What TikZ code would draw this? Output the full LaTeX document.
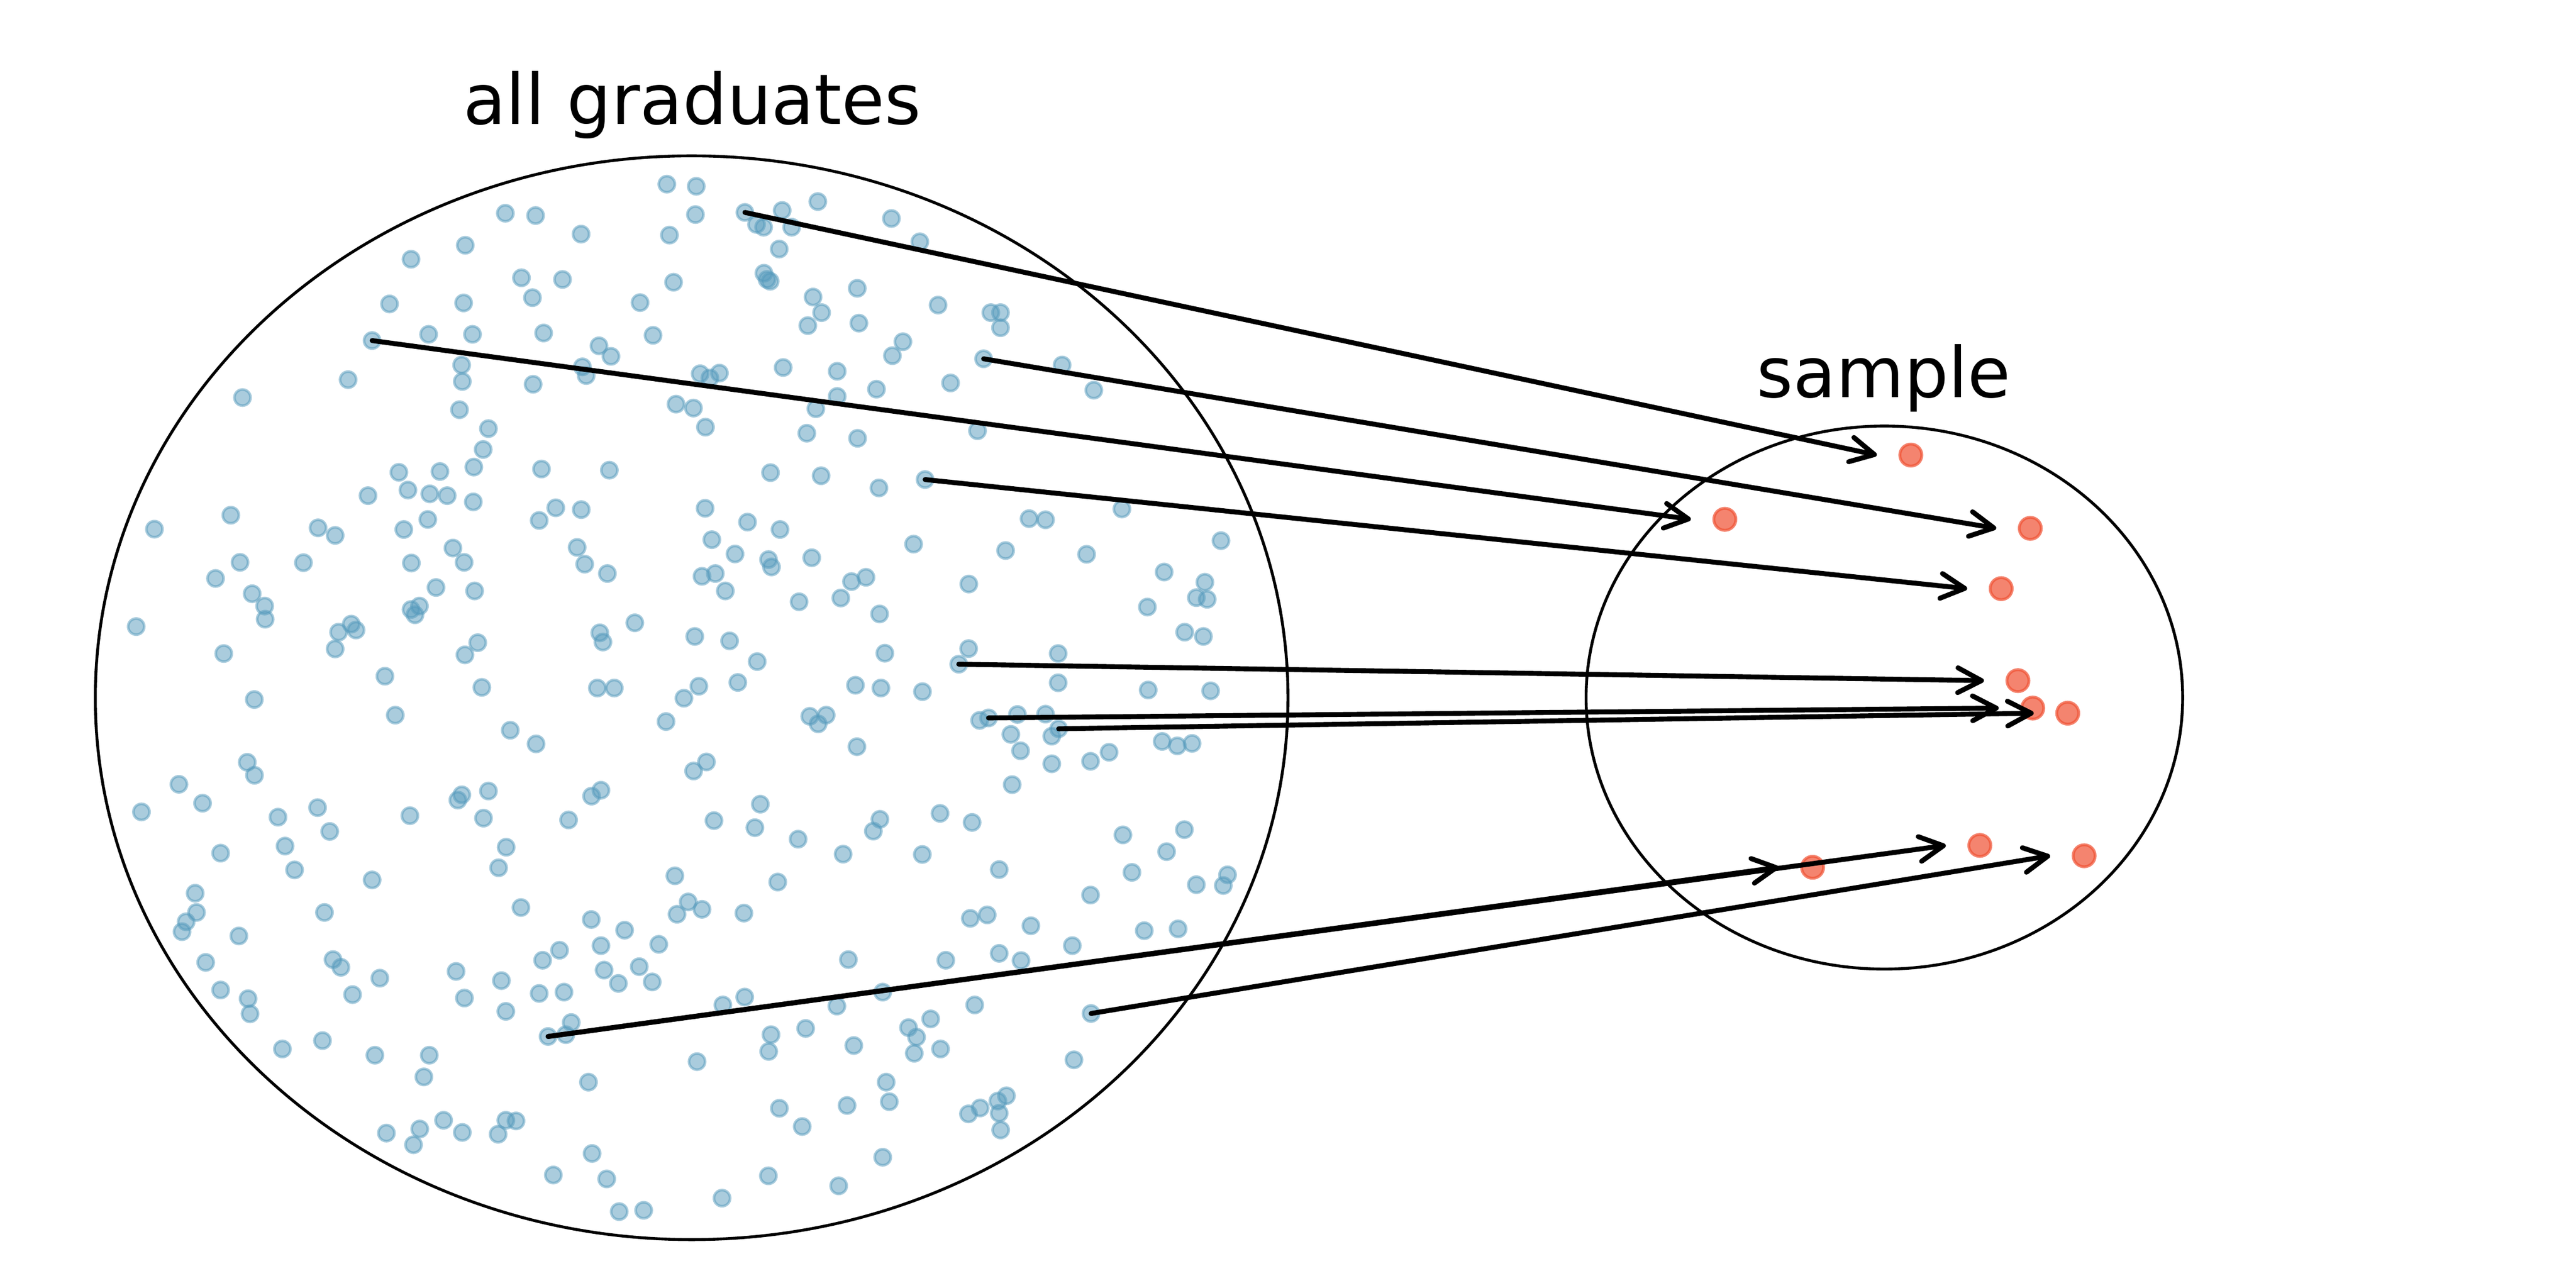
\documentclass[tikz,border=0pt]{standalone}
\usepackage{fontspec}
\setmainfont{DejaVu Sans}
\usetikzlibrary{arrows.meta,calc,shapes.geometric}
\definecolor{oiblue}{HTML}{569BBD}
\definecolor{oired}{HTML}{F05133}
\tikzset{
  bluedot/.style={fill=oiblue, draw=oiblue, fill opacity=0.5, draw opacity=0.5, line width=0.93pt},
  startdot/.style={circle, inner sep=0pt, minimum size=0.196cm, fill=oiblue, draw=oiblue, fill opacity=0.5, draw opacity=0.5, line width=0.93pt},
  reddot/.style={circle, inner sep=0pt, minimum size=0.268cm, fill=oired, draw=oired, fill opacity=0.7, draw opacity=0.7, line width=1pt},
  popring/.style={ellipse, draw=black, line width=1pt, inner sep=0pt},
  samparrow/.style={draw=black, line width=1.7pt, line cap=round, -{Straight Barb[length=8.2pt, width=8.6pt, round]}},
  titletext/.style={font=\fontsize{24.2}{29}\selectfont, inner sep=0pt, anchor=base}
}
\begin{document}
\begin{tikzpicture}[x=0.02cm, y=-0.02cm]
\useasboundingbox (0,0) rectangle (1568,784);
\fill[white] (0,0) rectangle (1568,784);

% population and sample outlines
\node[popring, minimum width=14.522cm, minimum height=13.196cm] (pop) at (421,424.7) {};
\node[popring, minimum width=7.264cm, minimum height=6.612cm] (samp) at (1147,424.6) {};

% labels
\node[titletext] (poplabel) at (421.3,75.7) {all graduates};
\node[titletext] (samplabel) at (1146.7,241.8) {sample};

% population dots
\foreach \x/\y in {
250.2/157.8, 283.2/149.3, 237.1/185.0, 282.2/184.4, 260.9/203.5, 287.6/203.5, 281.0/222.2, 281.4/232.2, 211.9/231.1, 147.6/242.0,
279.7/249.4, 297.3/260.9, 294.1/273.6, 242.8/287.5, 267.8/287.0, 288.4/284.3, 224.0/301.7, 248.3/298.3, 261.6/300.6, 272.2/301.7,
288.1/305.5, 140.5/313.6, 94.0/322.1, 193.6/321.3, 204.0/325.9, 245.8/322.3, 260.4/316.2, 275.7/333.6, 282.5/342.3, 250.4/342.7,
184.7/342.5, 146.1/342.3, 131.2/352.1, 153.5/361.4, 161.1/368.9, 161.4/376.9, 265.4/357.6, 288.9/359.7, 250.2/371.0, 252.6/374.2,
255.3/368.9, 82.9/381.4, 213.8/379.9, 216.7/383.5, 206.1/384.8, 204.0/395.0, 136.2/397.8, 290.8/391.2, 283.0/398.6, 234.3/411.6,
293.3/418.4, 154.8/425.8,
307.6/129.8, 326.0/131.2, 353.7/142.5, 405.9/112.1, 423.8/113.4, 423.3/130.6, 407.5/143.1, 460.5/136.6, 464.8/138.3, 476.1/128.1,
481.9/138.3, 497.8/122.7, 542.6/133.0, 474.3/151.6, 317.4/169.1, 342.4/170.1, 324.1/181.2, 410.0/171.8, 389.6/184.2, 465.0/166.3,
466.9/170.1, 468.8/171.2, 494.9/180.8, 500.1/190.3, 521.8/175.5, 491.7/198.2, 522.8/196.7, 549.6/208.0, 543.2/216.5, 330.9/202.7,
364.6/210.5, 371.9/216.9, 397.5/204.1, 354.5/223.3, 356.8/228.6, 324.5/233.9, 426.2/227.5, 437.9/227.1, 432.1/230.1, 476.7/223.7,
509.6/226.0, 533.5/236.9, 509.6/241.3, 496.6/248.8, 411.5/246.0, 422.1/248.4, 429.4/260.0, 491.1/263.7, 522.0/266.8, 329.6/285.5,
370.9/286.2, 469.0/287.7, 499.8/289.6, 535.0/297.0, 338.3/309.1, 353.8/310.2, 328.2/316.8, 429.2/309.4, 455.0/317.8, 474.8/322.3,
351.3/333.2, 355.9/343.4, 369.7/349.1, 433.3/328.5, 447.4/337.2, 467.8/340.6, 469.6/345.1, 494.1/339.5, 427.3/350.8, 435.4/349.1,
441.5/359.7, 486.4/366.3, 511.8/364.0, 518.3/354.0, 527.1/351.4, 535.4/373.7, 386.4/379.1, 365.1/385.2, 367.0/390.8, 422.9/387.4,
444.1/390.1, 460.9/402.7, 538.6/397.6, 363.6/418.8, 373.9/418.8, 416.3/425.0, 425.4/417.7, 449.1/415.4, 520.7/417.1, 536.2/418.8,
559.9/147.2, 571.0/185.7, 603.1/190.3, 609.0/190.3, 609.0/199.5, 646.5/222.2, 578.6/233.1, 665.8/237.5, 595.0/262.2, 626.4/315.7,
636.4/316.4, 682.9/309.8, 556.1/331.2, 612.1/335.1, 661.4/337.4, 743.2/329.1, 589.7/355.5, 708.6/348.2, 733.4/354.4, 728.2/363.8,
734.8/364.8, 698.4/369.5, 721.1/384.8, 732.5/387.4, 589.6/394.8, 644.1/397.8, 561.5/421.0, 644.1/415.6, 698.9/420.0, 736.9/420.5,
240.6/435.3, 150.5/464.0, 154.9/471.9, 108.9/477.4, 123.3/488.9, 86.1/494.2, 169.2/497.4, 193.3/491.6, 200.7/506.1, 249.5/496.5,
281.1/483.8, 278.7/487.0, 297.3/481.5, 294.3/498.0, 134.3/519.3, 173.5/515.0, 179.3/529.5, 226.5/535.6, 118.8/543.7, 119.6/555.4,
113.3/561.1, 110.8/567.1, 145.4/569.7, 197.5/555.4, 125.2/585.8, 202.7/584.1, 207.5/588.8, 231.2/595.4, 214.6/605.4, 277.6/591.3,
282.7/607.5, 134.3/602.6, 151.0/607.9, 152.2/617.1, 171.9/638.5, 196.3/633.4, 228.2/642.3, 261.3/642.3, 258.0/655.5, 235.2/689.7,
255.5/687.2, 251.7/696.8, 270.0/681.9, 281.4/689.3,
310.6/444.5, 326.3/452.8, 405.4/439.2, 492.9/436.0, 502.9/435.3, 498.0/440.6, 521.6/454.5, 596.3/438.5, 619.3/434.9, 636.4/434.7,
615.3/447.0, 640.2/448.1, 621.2/457.0, 640.2/464.9, 663.8/463.4, 675.1/457.9, 707.4/451.3, 716.6/454.0, 725.6/452.5, 616.1/477.6,
430.0/463.8, 422.2/469.3, 365.8/481.0, 360.1/484.6, 346.1/499.1, 308.1/515.7, 303.5/528.2, 434.6/499.5, 462.8/489.5, 459.5/503.8,
485.8/510.8, 513.2/519.9, 561.4/520.1, 535.6/498.7, 531.6/505.9, 572.2/495.1, 591.7/500.6, 608.2/529.3, 683.5/508.2, 720.9/505.0,
710.1/518.4, 689.0/531.0, 728.2/538.5, 747.2/532.5, 744.6/539.0, 663.8/544.8, 410.8/533.1, 473.4/536.9, 317.1/552.4, 359.9/559.7,
380.2/566.2, 365.8/575.6, 340.6/578.4, 330.3/584.5, 367.7/590.5, 376.4/598.6, 389.1/588.4, 401.0/574.8, 397.0/597.7, 328.2/604.7,
343.3/603.9, 305.2/596.9, 307.9/615.6, 347.7/622.4, 344.4/629.8, 418.9/549.0, 412.1/556.5, 427.3/553.5, 452.8/555.8, 440.0/611.7,
453.3/606.9, 516.4/584.1, 509.4/612.4, 537.3/603.9, 575.7/584.5, 608.2/580.3, 621.5/584.7, 590.6/559.0, 600.9/556.9, 627.5/563.5,
652.7/575.6, 696.5/566.5, 717.1/565.4, 593.3/611.7, 566.5/620.2, 553.0/625.5, 557.9/631.3, 572.5/638.5, 556.5/641.1, 469.3/629.8,
467.9/640.0, 490.4/626.0, 519.7/636.4, 424.3/646.2, 653.7/645.1, 358.2/658.7, 539.4/658.7, 541.3/670.6, 474.4/674.6, 515.6/672.9,
488.3/685.7, 612.6/667.0, 607.4/670.2, 596.6/674.4, 589.5/678.0, 608.2/677.6, 609.1/687.8, 303.2/690.4, 307.9/681.9, 314.1/682.3,
360.4/702.1, 336.8/715.2, 369.3/717.6, 467.7/715.7, 537.3/704.4, 510.5/721.8, 439.5/729.3, 376.9/737.5, 391.8/736.7}
  \path[bluedot] (\x,\y) circle[radius=0.098cm];

% sampled population members (arrow starts)
\node[startdot] (s1) at (453.4,129.3) {};
\node[startdot] (s2) at (226.5,207.3) {};
\node[startdot] (s3) at (598.7,218.4) {};
\node[startdot] (s4) at (563.1,291.9) {};
\node[startdot] (s5) at (583.6,404.3) {};
\node[startdot] (s6) at (601.7,437.0) {};
\node[startdot] (s7) at (644.4,443.6) {};
\node[startdot] (s8) at (333.6,630.9) {};
\node[startdot] (s10) at (664.1,616.9) {};

% sample dots
\node[reddot] (r1) at (1163.1,277.0) {};
\node[reddot] (r2) at (1049.9,316.1) {};
\node[reddot] (r3) at (1235.8,321.6) {};
\node[reddot] (r4) at (1218.1,358.3) {};
\node[reddot] (r5) at (1228.3,414.3) {};
\node[reddot] (r6) at (1237.3,431.0) {};
\node[reddot] (r7) at (1258.6,434.1) {};
\node[reddot] (r8) at (1103.3,527.9) {};
\node[reddot] (r9) at (1205.1,514.6) {};
\node[reddot] (r10) at (1268.6,520.9) {};

% arrows
\draw[samparrow] (s1.center) -- ($(r1.center)+(-20.7,0)$);
\draw[samparrow] (s2.center) -- ($(r2.center)+(-20.7,0)$);
\draw[samparrow] (s3.center) -- ($(r3.center)+(-20.7,0)$);
\draw[samparrow] (s4.center) -- ($(r4.center)+(-20.7,0)$);
\draw[samparrow] (s5.center) -- ($(r5.center)+(-20.7,0)$);
\draw[samparrow] (s6.center) -- ($(r6.center)+(-20.7,0)$);
\draw[samparrow] (s7.center) -- ($(r7.center)+(-20.7,0)$);
\draw[samparrow] (s8.center) -- ($(r8.center)+(-20.7,0)$);
\draw[samparrow] (s8.center) -- ($(r9.center)+(-20.7,0)$);
\draw[samparrow] (s10.center) -- ($(r10.center)+(-20.7,0)$);
\end{tikzpicture}
\end{document}
